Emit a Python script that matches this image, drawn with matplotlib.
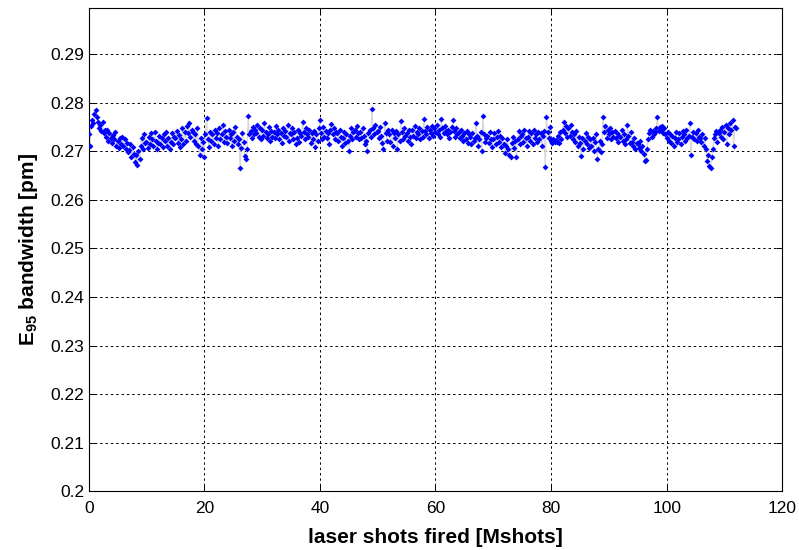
import numpy as np
import matplotlib
matplotlib.use("Agg")
import matplotlib.pyplot as plt

plt.rcParams['font.family'] = ['Liberation Sans', 'DejaVu Sans']
plt.rcParams['mathtext.fontset'] = 'custom'
plt.rcParams['mathtext.rm'] = 'Liberation Sans'
plt.rcParams['mathtext.bf'] = 'Liberation Sans:bold'

shots_start = 0.0
shots_step = 0.2  # Mshots between samples

bandwidth_pm = [
    .2735, .2712, .2752, .2765, .2758,
    .2778, .2785, .2770, .2760, .2748,
    .2755, .2742, .2760, .2738, .2745,
    .2730, .2745, .2722, .2738, .2728,
    .2718, .2733, .2725, .2740, .2712,
    .2722, .2708, .2728, .2715, .2730,
    .2712, .2725, .2705, .2718, .2698,
    .2702, .2715, .2688, .2710, .2695,
    .2678, .2692, .2672, .2700, .2685,
    .2712, .2728, .2705, .2735, .2718,
    .2720, .2708, .2730, .2715, .2738,
    .2725, .2712, .2740, .2722, .2705,
    .2718, .2732, .2715, .2728, .2710,
    .2735, .2722, .2740, .2712, .2728,
    .2705, .2720, .2738, .2715, .2730,
    .2728, .2742, .2718, .2733, .2710,
    .2725, .2748, .2715, .2740, .2722,
    .2752, .2738, .2758, .2730, .2745,
    .2740, .2722, .2735, .2715, .2748,
    .2712, .2692, .2728, .2705, .2720,
    .2688, .2735, .2768, .2725, .2710,
    .2740, .2722, .2735, .2715, .2745,
    .2728, .2738, .2712, .2748, .2725,
    .2735, .2755, .2720, .2742, .2730,
    .2718, .2745, .2728, .2735, .2712,
    .2740, .2722, .2750, .2730, .2715,
    .2725, .2665, .2708, .2738, .2720,
    .2690, .2685, .2705, .2773, .2735,
    .2742, .2728, .2750, .2735, .2745,
    .2738, .2755, .2730, .2748, .2725,
    .2745, .2732, .2758, .2740, .2728,
    .2735, .2750, .2722, .2742, .2730,
    .2740, .2728, .2752, .2735, .2745,
    .2725, .2738, .2718, .2748, .2732,
    .2742, .2730, .2755, .2722, .2738,
    .2735, .2748, .2725, .2740, .2715,
    .2728, .2745, .2720, .2738, .2732,
    .2760, .2740, .2725, .2748, .2735,
    .2730, .2745, .2718, .2738, .2725,
    .2742, .2710, .2735, .2722, .2748,
    .2764, .2738, .2725, .2750, .2730,
    .2742, .2728, .2738, .2715, .2745,
    .2757, .2735, .2748, .2725, .2740,
    .2738, .2722, .2745, .2730, .2712,
    .2728, .2740, .2718, .2735, .2722,
    .2701, .2732, .2748, .2725, .2740,
    .2745, .2730, .2752, .2738, .2725,
    .2740, .2728, .2748, .2732, .2715,
    .2722, .2701, .2738, .2745, .2730,
    .2787, .2748, .2735, .2755, .2740,
    .2742, .2728, .2750, .2732, .2718,
    .2704, .2758, .2738, .2722, .2745,
    .2735, .2720, .2745, .2712, .2738,
    .2728, .2742, .2705, .2735, .2722,
    .2763, .2740, .2725, .2748, .2732,
    .2738, .2722, .2745, .2730, .2715,
    .2745, .2732, .2752, .2728, .2740,
    .2735, .2748, .2725, .2742, .2730,
    .2766, .2742, .2735, .2750, .2728,
    .2745, .2738, .2752, .2732, .2748,
    .2740, .2755, .2735, .2745, .2730,
    .2766, .2748, .2738, .2752, .2742,
    .2735, .2745, .2728, .2740, .2750,
    .2764, .2742, .2730, .2748, .2735,
    .2740, .2728, .2745, .2732, .2722,
    .2738, .2725, .2742, .2718, .2735,
    .2730, .2715, .2738, .2722, .2728,
    .2758, .2732, .2712, .2725, .2740,
    .2701, .2772, .2735, .2720, .2728,
    .2732, .2718, .2740, .2725, .2710,
    .2725, .2738, .2715, .2730, .2742,
    .2720, .2732, .2710, .2728, .2715,
    .2697, .2712, .2725, .2705, .2692,
    .2689, .2718, .2730, .2708, .2722,
    .2689, .2725, .2742, .2715, .2732,
    .2735, .2720, .2745, .2728, .2712,
    .2730, .2742, .2722, .2738, .2715,
    .2745, .2728, .2735, .2720, .2740,
    .2725, .2738, .2712, .2732, .2742,
    .2667, .2770, .2740, .2728, .2750,
    .2722, .2718, .2725, .2720, .2723,
    .2720, .2732, .2718, .2740, .2725,
    .2745, .2760, .2738, .2752, .2730,
    .2748, .2732, .2755, .2740, .2725,
    .2735, .2720, .2742, .2712, .2730,
    .2718, .2691, .2728, .2705, .2722,
    .2738, .2715, .2730, .2708, .2725,
    .2712, .2728, .2700, .2720, .2735,
    .2685, .2705, .2722, .2698, .2715,
    .2770, .2740, .2752, .2728, .2745,
    .2735, .2748, .2725, .2740, .2730,
    .2742, .2728, .2738, .2720, .2732,
    .2730, .2745, .2722, .2735, .2715,
    .2725, .2755, .2732, .2718, .2740,
    .2720, .2712, .2728, .2705, .2718,
    .2715, .2708, .2722, .2700, .2712,
    .2695, .2680, .2683, .2705, .2725,
    .2738, .2745, .2730, .2742, .2735,
    .2740, .2748, .2770, .2742, .2750,
    .2745, .2752, .2738, .2748, .2735,
    .2728, .2740, .2722, .2735, .2718,
    .2732, .2712, .2728, .2740, .2720,
    .2725, .2738, .2715, .2730, .2742,
    .2735, .2722, .2745, .2728, .2732,
    .2758, .2692, .2730, .2740, .2725,
    .2738, .2722, .2745, .2730, .2728,
    .2720, .2735, .2712, .2728, .2705,
    .2680, .2692, .2670, .2665, .2688,
    .2705, .2728, .2735, .2742, .2720,
    .2738, .2745, .2730, .2750, .2725,
    .2740, .2755, .2715, .2748, .2735,
    .2758, .2745, .2764, .2712, .2750,
    .2748,
]

x_ticks = [0, 20, 40, 60, 80, 100, 120]
y_ticks = [0.2, 0.21, 0.22, 0.23, 0.24, 0.25, 0.26, 0.27, 0.28, 0.29]
y_tick_labels = ['0.2', '0.21', '0.22', '0.23', '0.24', '0.25', '0.26', '0.27', '0.28', '0.29']

shots = shots_start + shots_step * np.arange(len(bandwidth_pm))

fig = plt.figure(figsize=(7.99, 5.5), dpi=100)
ax = fig.add_axes([0.111, 0.107, 0.868, 0.878])

ax.plot(shots, bandwidth_pm, '-', color='#d8d8d8', lw=0.9, zorder=2)
ax.plot(shots, bandwidth_pm, 'D', color='#0000ff', ms=3.0, mew=0, zorder=3)

ax.set_xlim(0, 120)
ax.set_ylim(0.2, 0.2995)
ax.set_xticks(x_ticks)
ax.set_xticklabels([str(t) for t in x_ticks])
ax.set_yticks(y_ticks)
ax.set_yticklabels(y_tick_labels)

ax.grid(True, color='black', linestyle=(0, (2.5, 3)), linewidth=0.7)
ax.set_axisbelow(True)
ax.tick_params(direction='in', length=4, width=0.7, labelsize=12.5, top=True, right=True,
               colors='black', pad=3)
ax.tick_params(axis='x', pad=7)
for s in ax.spines.values():
    s.set_linewidth(0.8)
    s.set_color('black')

ax.set_xlabel('laser shots fired [Mshots]', fontsize=15, fontweight='bold', labelpad=9)
ax.set_ylabel(r'$\mathbf{E_{95}}$ bandwidth [pm]', fontsize=15, fontweight='bold', labelpad=8)

fig.savefig('out.png', dpi=100)
